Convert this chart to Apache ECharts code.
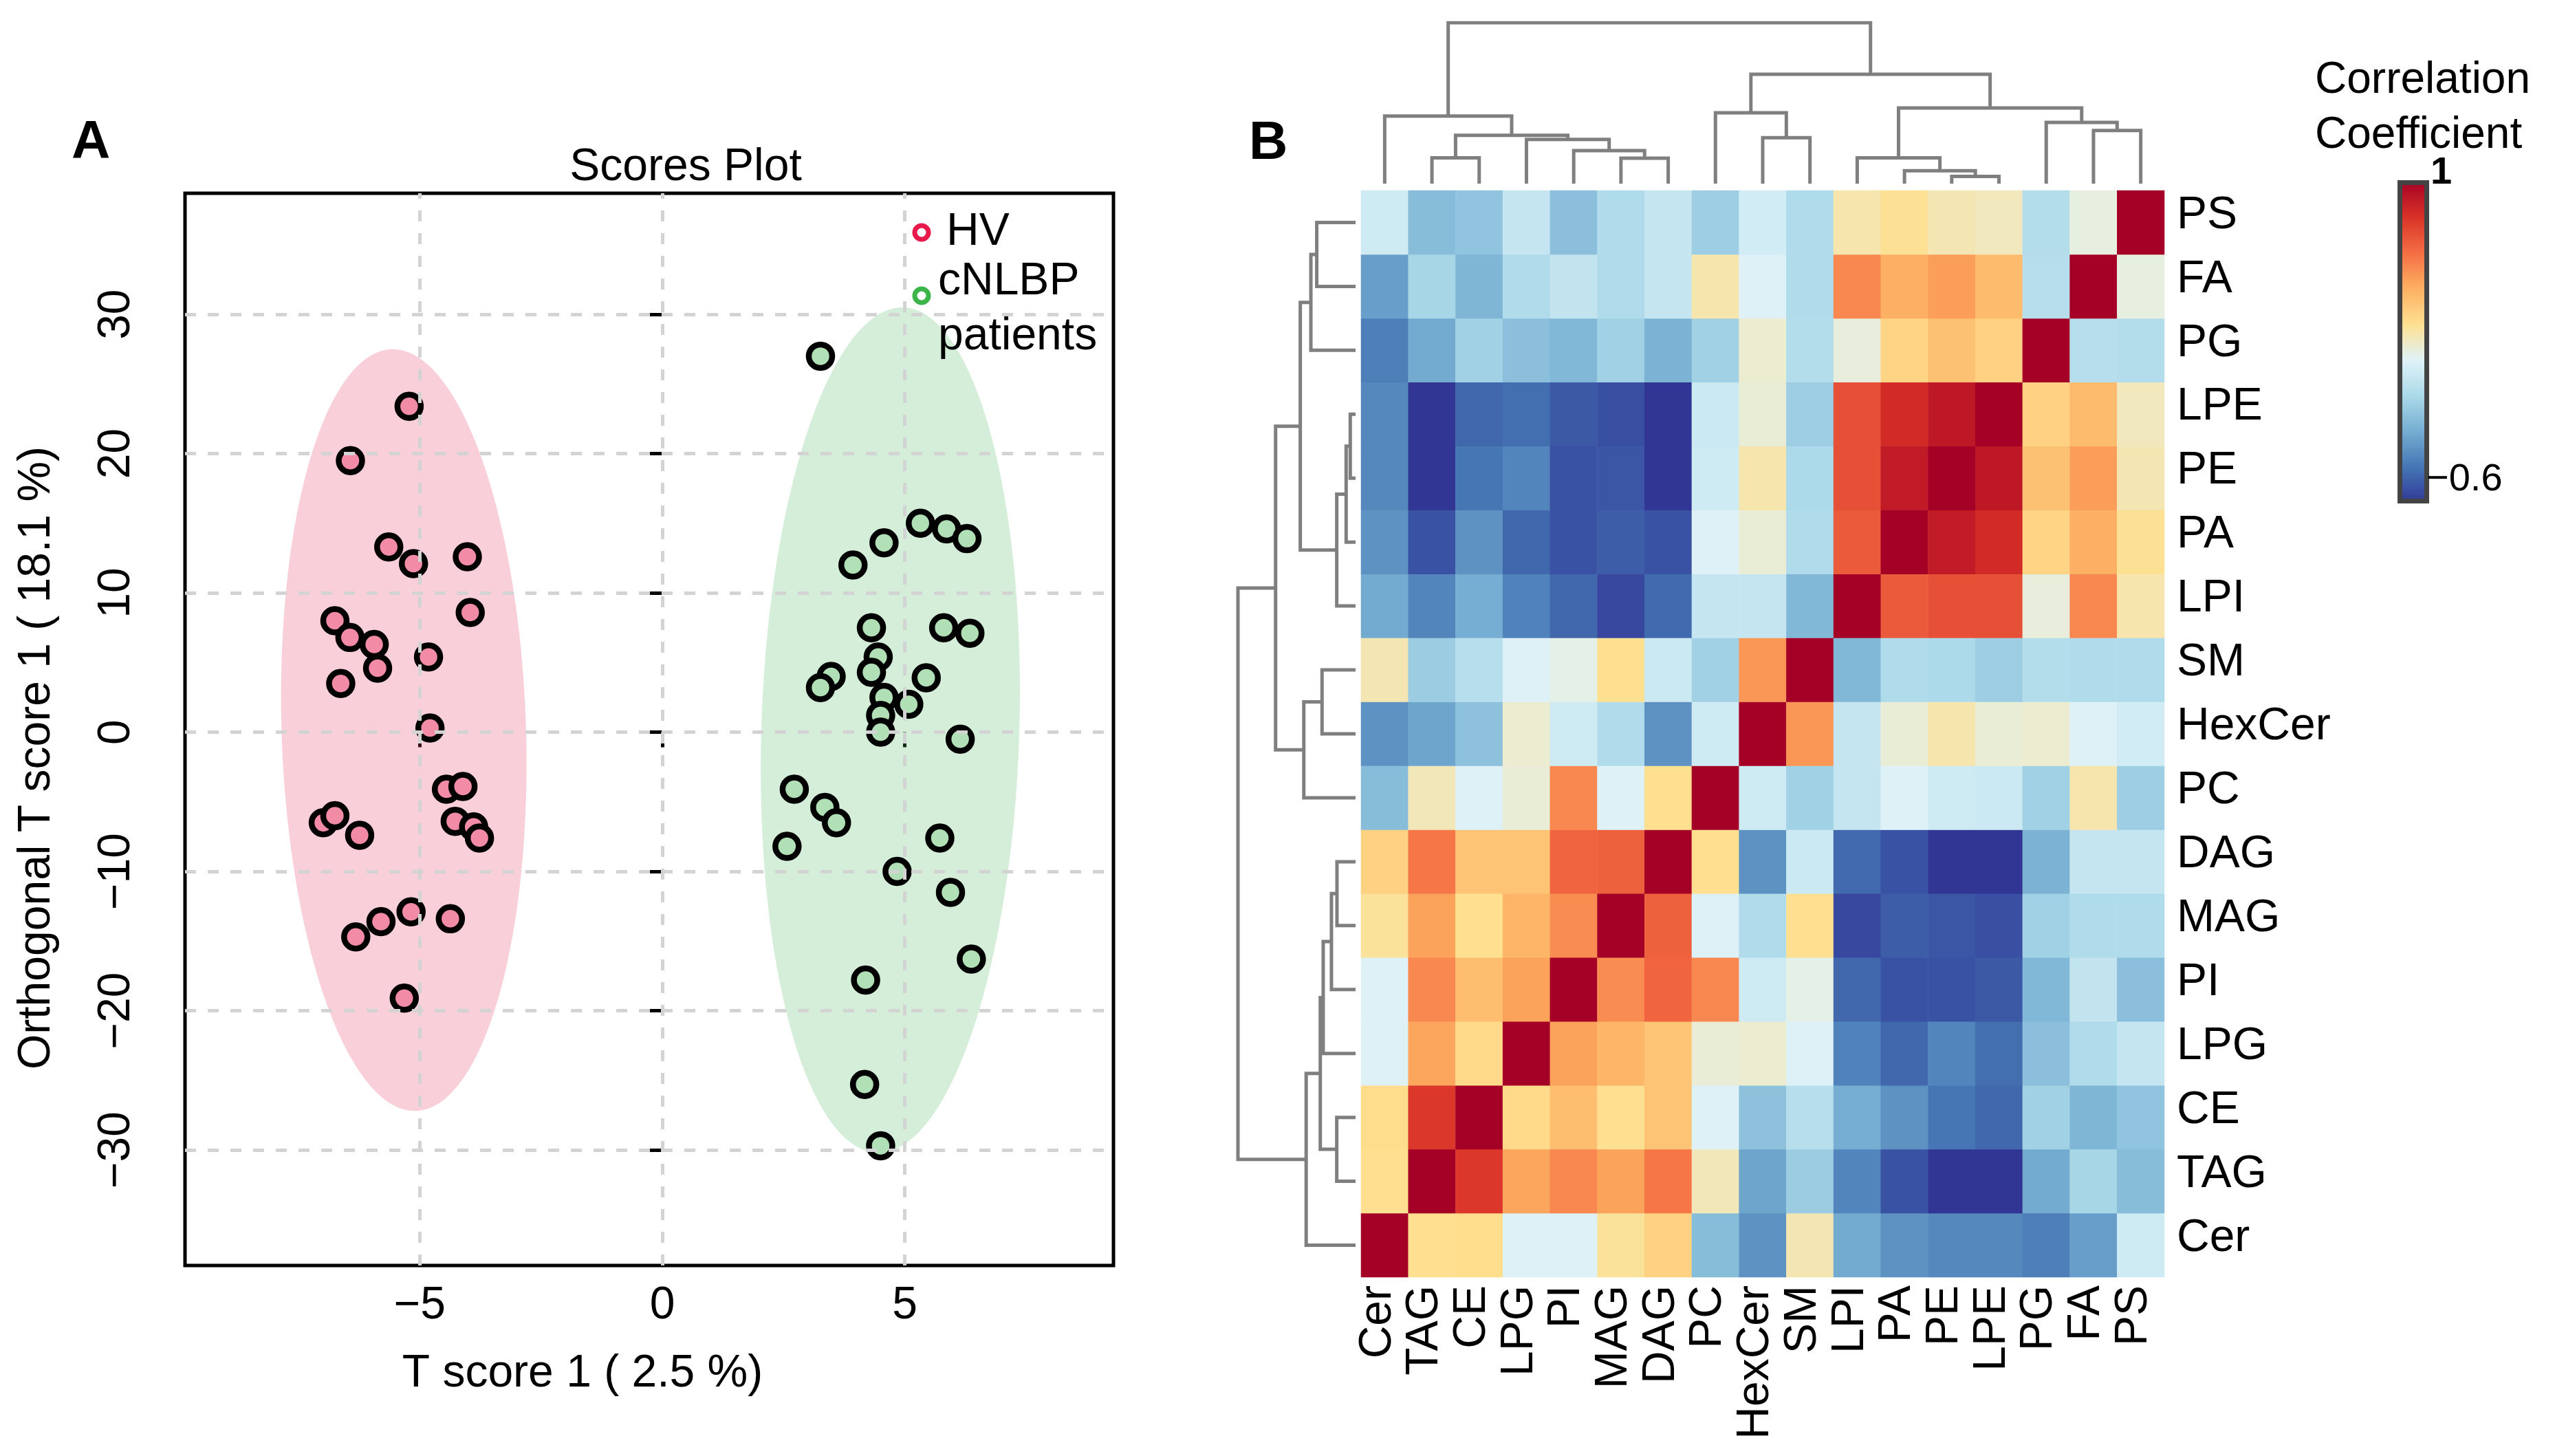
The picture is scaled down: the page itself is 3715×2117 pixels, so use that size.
<!DOCTYPE html>
<html><head><meta charset="utf-8">
<script src="https://cdn.jsdelivr.net/npm/echarts@6/dist/echarts.min.js"></script>
<style>html,body{margin:0;padding:0;background:#fff}#c{width:3715px;height:2117px}</style>
</head><body><div id="c"></div>
<script>
// ---------- Panel A data (scores) ----------
const hvX = [-5.22,-6.43,-5.64,-5.13,-4.02,-3.96,-6.75,-6.44,-5.94,-5.87,-4.82,-6.63,-4.79,-4.45,-4.11,-6.99,-6.75,-6.24,-4.27,-3.89,-3.77,-5.18,-5.80,-4.37,-6.32,-5.32];
const hvY = [23.4,19.5,13.3,12.1,12.6,8.6,8.0,6.8,6.3,4.6,5.4,3.5,0.3,-4.1,-3.9,-6.5,-6.0,-7.4,-6.4,-6.8,-7.6,-12.9,-13.6,-13.4,-14.7,-19.1];
const ptX = [3.26,3.93,4.57,5.32,5.86,6.28,4.31,5.80,6.34,4.45,4.31,3.48,3.26,5.44,4.57,5.08,4.50,4.50,6.14,2.72,3.35,3.59,2.57,5.72,4.84,5.94,6.37,4.19,4.17,4.50];
const ptY = [27.0,12.0,13.6,15.0,14.6,13.9,7.5,7.5,7.1,5.4,4.3,4.0,3.2,3.9,2.5,2.0,1.2,0.0,-0.5,-4.1,-5.4,-6.5,-8.2,-7.6,-10.0,-11.5,-16.3,-17.8,-25.3,-29.7];
// confidence ellipses: [centerX, centerY, radiusX, radiusY, shearX]
const ellipseHV = [-5.33, 0.15, 2.52, 27.35, -0.225];
const ellipsePt = [4.70, 0.15, 2.66, 30.35, 0.245];
const xTicks = [-5, 0, 5];
const yTicks = [-30, -20, -10, 0, 10, 20, 30];
const groupNames = ['HV', 'cNLBP', 'patients'];

// ---------- Panel B data (correlation) ----------
const lipids = ['Cer','TAG','CE','LPG','PI','MAG','DAG','PC','HexCer','SM','LPI','PA','PE','LPE','PG','FA','PS'];
const corrCer    = [1, 0.29, 0.30, 0.10, 0.10, 0.27, 0.34, -0.18, -0.33, 0.23, -0.25, -0.33, -0.36, -0.36, -0.39, -0.29, 0.05];
const corrTAG    = [0.29, 1, 0.80, 0.49, 0.57, 0.50, 0.62, 0.22, -0.27, -0.12, -0.37, -0.52, -0.60, -0.60, -0.25, -0.08, -0.18];
const corrCE     = [0.30, 0.80, 1, 0.31, 0.41, 0.29, 0.39, 0.10, -0.16, -0.03, -0.24, -0.33, -0.42, -0.46, -0.10, -0.21, -0.15];
const corrLPG    = [0.10, 0.49, 0.31, 1, 0.50, 0.44, 0.39, 0.17, 0.18, 0.10, -0.38, -0.46, -0.37, -0.44, -0.17, -0.05, 0.02];
const corrPI     = [0.10, 0.57, 0.41, 0.50, 1, 0.56, 0.67, 0.57, 0.05, 0.14, -0.46, -0.52, -0.52, -0.50, -0.20, 0.01, -0.17];
const corrMAG    = [0.27, 0.50, 0.29, 0.44, 0.56, 1, 0.68, 0.10, -0.05, 0.29, -0.55, -0.49, -0.51, -0.53, -0.10, -0.05, -0.05];
const corrDAG    = [0.34, 0.62, 0.39, 0.39, 0.67, 0.68, 1, 0.29, -0.33, 0.04, -0.45, -0.52, -0.60, -0.60, -0.22, 0.02, 0.02];
const corrPC     = [-0.18, 0.22, 0.10, 0.17, 0.57, 0.10, 0.29, 1, 0.05, -0.10, 0.02, 0.10, 0.05, 0.04, -0.10, 0.24, -0.11];
const corrHexCer = [-0.33, -0.27, -0.16, 0.18, 0.05, -0.05, -0.33, 0.05, 1, 0.53, 0.02, 0.17, 0.24, 0.17, 0.18, 0.10, 0.06];
const corrSM     = [0.23, -0.12, -0.03, 0.10, 0.14, 0.29, 0.04, -0.10, 0.53, 1, -0.20, -0.05, -0.06, -0.11, -0.04, -0.05, -0.05];
const corrLPI    = [-0.25, -0.37, -0.24, -0.38, -0.46, -0.55, -0.45, 0.02, 0.02, -0.20, 1, 0.70, 0.73, 0.73, 0.16, 0.57, 0.24];
const corrPA     = [-0.33, -0.52, -0.33, -0.46, -0.52, -0.49, -0.52, 0.10, 0.17, -0.05, 0.70, 1, 0.90, 0.84, 0.33, 0.46, 0.28];
const corrPE     = [-0.36, -0.60, -0.42, -0.37, -0.52, -0.51, -0.60, 0.05, 0.24, -0.06, 0.73, 0.90, 1, 0.91, 0.40, 0.51, 0.23];
const corrLPE    = [-0.36, -0.60, -0.46, -0.44, -0.50, -0.53, -0.60, 0.04, 0.17, -0.11, 0.73, 0.84, 0.91, 1, 0.34, 0.42, 0.21];
const corrPG     = [-0.39, -0.25, -0.10, -0.17, -0.20, -0.10, -0.22, -0.10, 0.18, -0.04, 0.16, 0.33, 0.40, 0.34, 1, -0.03, -0.04];
const corrFA     = [-0.29, -0.08, -0.21, -0.05, 0.01, -0.05, 0.02, 0.24, 0.10, -0.05, 0.57, 0.46, 0.51, 0.42, -0.03, 1, 0.15];
const corrPS     = [0.05, -0.18, -0.15, 0.02, -0.17, -0.05, 0.02, -0.11, 0.06, -0.05, 0.24, 0.28, 0.23, 0.21, -0.04, 0.15, 1];
const corrRows = [corrCer, corrTAG, corrCE, corrLPG, corrPI, corrMAG, corrDAG, corrPC, corrHexCer, corrSM, corrLPI, corrPA, corrPE, corrLPE, corrPG, corrFA, corrPS];

// hierarchical clustering merges: [childA, childB, height]
const merges = [
  ['PE','LPE',0.045], ['PA','m0',0.08], ['LPI','m1',0.16],
  ['TAG','CE',0.16], ['MAG','DAG',0.158], ['PI','m4',0.205], ['LPG','m5',0.275], ['m3','m6',0.30], ['Cer','m7',0.42],
  ['HexCer','SM',0.285], ['PC','m9',0.44],
  ['FA','PS',0.33], ['PG','m11',0.38], ['m2','m12',0.47],
  ['m10','m13',0.68], ['m8','m14',1.0]
];
const corrMin = -0.6, corrMax = 1;
const colorbarLabels = ['1', '\u22120.6'];
const palette = ['#313695','#4575B4','#74ADD1','#ABD9E9','#E0F3F8','#FEE090','#FDAE61','#F46D43','#D73027','#A50026'];

// ---------- build ----------
const FONT = 'Liberation Sans, Arial, Helvetica, sans-serif';
const minus = v => String(v).replace('-', '\u2212');

function dendroSegments(horizontal) {
  const pos = {}, hgt = {};
  lipids.forEach((n, i) => { pos[n] = i; hgt[n] = 0; });
  const segs = [];
  merges.forEach((m, k) => {
    const [a, b, h] = m;
    const xa = pos[a], xb = pos[b];
    const pts = [[xa, hgt[a]], [xa, h], [xb, h], [xb, hgt[b]]];
    segs.push({coords: horizontal ? pts : pts.map(p => [p[1], p[0]])});
    pos['m' + k] = (xa + xb) / 2; hgt['m' + k] = h;
  });
  return segs;
}

const heatData = [];
corrRows.forEach((row, r) => row.forEach((v, c) => heatData.push([c, r, v])));

function ellipseRender(fill) {
  return function (params, api) {
    const cx = api.value(0), cy = api.value(1), rx = api.value(2), ry = api.value(3), sh = api.value(4);
    const pts = [];
    for (let k = 0; k < 240; k++) {
      const t = 2 * Math.PI * k / 240;
      pts.push(api.coord([cx + rx * Math.cos(t) + sh * Math.sin(t), cy + ry * Math.sin(t)]));
    }
    return {type: 'polygon', shape: {points: pts}, style: {fill: fill}};
  };
}

const chart = echarts.init(document.getElementById('c'), null, {renderer: 'canvas'});
const hid = {show: false};
const option = {
  backgroundColor: '#fff',
  animation: false,
  textStyle: {fontFamily: FONT, color: '#000'},
  grid: [
    {left: 269, top: 281, width: 1350, height: 1559, show: true, borderColor: '#000', borderWidth: 5, backgroundColor: 'transparent', outerBoundsMode: 'none'},
    {left: 1979, top: 277, width: 1168, height: 1580, outerBoundsMode: 'none'},
    {left: 1979, top: 33, width: 1168, height: 234, outerBoundsMode: 'none'},
    {left: 1800, top: 277, width: 171, height: 1580, outerBoundsMode: 'none'}
  ],
  xAxis: [
    {gridIndex: 0, type: 'value', min: -9.84, max: 9.30, axisLine: hid, splitLine: hid,
     axisTick: {show: true, customValues: xTicks, length: 22, lineStyle: {color: '#000', width: 5}},
     axisLabel: {customValues: xTicks, fontSize: 66, color: '#000', margin: 26, formatter: minus, fontFamily: FONT}},
    {gridIndex: 1, type: 'category', data: lipids, position: 'bottom', axisLine: hid, axisTick: hid, splitLine: hid,
     axisLabel: {rotate: 90, interval: 0, fontSize: 66, color: '#000', margin: 12, verticalAlign: 'bottom', lineHeight: 20, fontFamily: FONT}},
    {gridIndex: 2, type: 'value', min: -0.5, max: 16.5, show: false},
    {gridIndex: 3, type: 'value', min: 0, max: 1, inverse: true, show: false}
  ],
  yAxis: [
    {gridIndex: 0, type: 'value', min: -38.3, max: 38.7, axisLine: hid, splitLine: hid,
     axisTick: {show: true, customValues: yTicks, length: 22, lineStyle: {color: '#000', width: 5}},
     axisLabel: {show: false}},
    {gridIndex: 1, type: 'category', data: lipids, position: 'right', axisLine: hid, axisTick: hid, splitLine: hid,
     axisLabel: {interval: 0, fontSize: 66, color: '#000', margin: 18, verticalAlign: 'bottom', lineHeight: 20, fontFamily: FONT}},
    {gridIndex: 2, type: 'value', min: 0, max: 1, show: false},
    {gridIndex: 3, type: 'value', min: -0.5, max: 16.5, show: false},
    {gridIndex: 0, type: 'value', position: 'left', offset: 30, min: -38.3, max: 38.7, axisLine: hid, splitLine: hid, axisTick: hid,
     axisLabel: {customValues: yTicks, rotate: 90, fontSize: 66, color: '#000', margin: 36, formatter: minus, fontFamily: FONT}}
  ],
  visualMap: [{type: 'continuous', show: false, seriesIndex: 4, min: corrMin, max: corrMax, inRange: {color: palette}}],
  series: [
    {type: 'scatter', xAxisIndex: 0, yAxisIndex: 0, data: [], z: 1, silent: true,
     markLine: {silent: true, symbol: ['none', 'none'], label: {show: false}, animation: false,
       lineStyle: {color: '#D3D3D3', type: [16, 17], width: 5},
       data: xTicks.map(v => ({xAxis: v})).concat(yTicks.map(v => ({yAxis: v})))}},
    {type: 'custom', name: 'HV ellipse', xAxisIndex: 0, yAxisIndex: 0, z: 2, silent: true,
     dimensions: ['cx','cy','rx','ry','sh'], encode: {x: 0, y: 1}, data: [ellipseHV], renderItem: ellipseRender('rgba(231,63,107,0.25)')},
    {type: 'custom', name: 'cNLBP ellipse', xAxisIndex: 0, yAxisIndex: 0, z: 2, silent: true,
     dimensions: ['cx','cy','rx','ry','sh'], encode: {x: 0, y: 1}, data: [ellipsePt], renderItem: ellipseRender('rgba(76,185,95,0.24)')},
    {type: 'scatter', name: 'HV', xAxisIndex: 0, yAxisIndex: 0, z: 3, symbolSize: 34,
     itemStyle: {color: '#F28BA5', borderColor: '#000', borderWidth: 8.5, opacity: 1},
     data: hvX.map((x, i) => [x, hvY[i]])},
    {type: 'heatmap', xAxisIndex: 1, yAxisIndex: 1, data: heatData, silent: true,
     itemStyle: {borderWidth: 0}, progressive: 0},
    {type: 'lines', coordinateSystem: 'cartesian2d', xAxisIndex: 2, yAxisIndex: 2, polyline: true, silent: true,
     lineStyle: {color: '#7F7F7F', width: 5, opacity: 1}, data: dendroSegments(true)},
    {type: 'lines', coordinateSystem: 'cartesian2d', xAxisIndex: 3, yAxisIndex: 3, polyline: true, silent: true,
     lineStyle: {color: '#7F7F7F', width: 5, opacity: 1}, data: dendroSegments(false)},
    {type: 'scatter', name: 'cNLBP patients', xAxisIndex: 0, yAxisIndex: 0, z: 3, symbolSize: 34,
     itemStyle: {color: '#B1DFB6', borderColor: '#000', borderWidth: 8.5, opacity: 1},
     data: ptX.map((x, i) => [x, ptY[i]])}
  ],
  graphic: [
    {type: 'text', left: 104, top: 209 - 40, style: {text: 'A', font: 'bold 78px ' + FONT, fill: '#000'}},
    {type: 'text', left: 1816, top: 210 - 40, style: {text: 'B', font: 'bold 78px ' + FONT, fill: '#000'}},
    {type: 'text', x: 997, y: 244, style: {text: 'Scores Plot', font: '66px ' + FONT, fill: '#000', align: 'center', verticalAlign: 'middle'}},
    {type: 'text', x: 847, y: 1998, style: {text: 'T score 1 ( 2.5 %)', font: '66px ' + FONT, fill: '#000', align: 'center', verticalAlign: 'middle'}},
    {type: 'text', x: 54, y: 1102, rotation: Math.PI / 2, style: {text: 'Orthogonal T score 1 ( 18.1 %)', font: '66px ' + FONT, fill: '#000', align: 'center', verticalAlign: 'middle'}},
    {type: 'circle', shape: {cx: 1340, cy: 338, r: 10}, style: {fill: 'none', stroke: '#E8194B', lineWidth: 7}, z: 10},
    {type: 'circle', shape: {cx: 1340, cy: 430, r: 10}, style: {fill: 'none', stroke: '#3BB44A', lineWidth: 7}, z: 10},
    {type: 'text', x: 1376, y: 338, z: 10, style: {text: groupNames[0], font: '66px ' + FONT, fill: '#000', verticalAlign: 'middle'}},
    {type: 'text', x: 1364, y: 410, z: 10, style: {text: groupNames[1], font: '66px ' + FONT, fill: '#000', verticalAlign: 'middle'}},
    {type: 'text', x: 1364, y: 490, z: 10, style: {text: groupNames[2], font: '66px ' + FONT, fill: '#000', verticalAlign: 'middle'}},
    {type: 'text', x: 3366, y: 117, style: {text: 'Correlation', font: '64px ' + FONT, fill: '#000', verticalAlign: 'middle'}},
    {type: 'text', x: 3366, y: 197, style: {text: 'Coefficient', font: '64px ' + FONT, fill: '#000', verticalAlign: 'middle'}},
    {type: 'rect', shape: {x: 3489.5, y: 265.5, width: 39, height: 463},
     style: {fill: new echarts.graphic.LinearGradient(0, 1, 0, 0, palette.map((c, i) => ({offset: i / (palette.length - 1), color: c}))), stroke: '#444', lineWidth: 7}},
    {type: 'text', x: 3534, y: 252, style: {text: colorbarLabels[0], font: 'bold 56px ' + FONT, fill: '#000', verticalAlign: 'middle'}},
    {type: 'text', x: 3528, y: 698, style: {text: colorbarLabels[1], font: '56px ' + FONT, fill: '#000', verticalAlign: 'middle'}}
  ]
};
chart.setOption(option);
</script></body></html>
